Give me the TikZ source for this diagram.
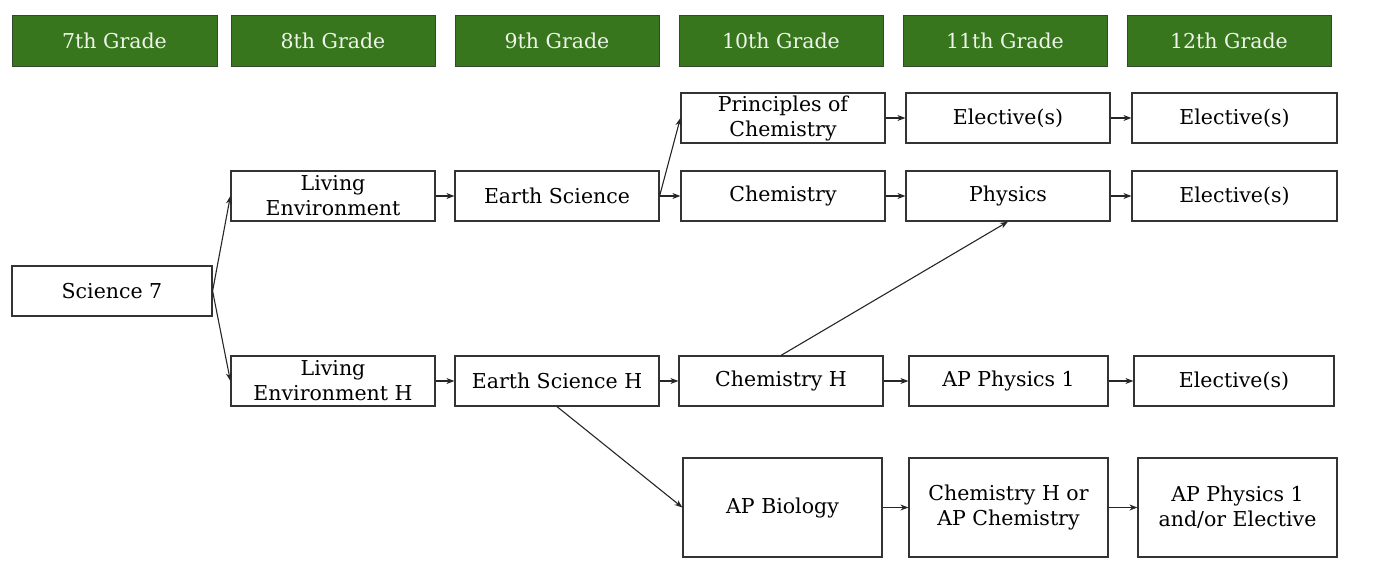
\documentclass[tikz,border=0pt]{standalone}
\usepackage{fontspec}
\setmainfont{DejaVu Serif}
\usetikzlibrary{arrows.meta}
\definecolor{hdr}{HTML}{38761D}
\definecolor{hdrtext}{HTML}{EEF4EA}
\definecolor{edge}{HTML}{333333}
\tikzset{
  x=1pt, y=-1pt,
  box/.style={draw=edge, line width=1.2pt, fill=white, inner sep=0pt, align=center,
    minimum height=50pt, font=\fontsize{20.5}{25}\selectfont, text=black},
  grade/.style={draw=edge!70!hdr, line width=1pt, fill=hdr, inner sep=0pt, minimum width=204pt,
    minimum height=51pt, text=hdrtext, font=\fontsize{20.5}{25}\selectfont},
  link/.style={draw=black!85, line width=1.1pt, -{Stealth[length=8pt,width=6pt]}}
}
\begin{document}
\begin{tikzpicture}
\useasboundingbox (0,0) rectangle (1383,562);
% headers
\node[grade, minimum width=205pt] (h7) at (114.5,40.5) {7th Grade};
\node[grade] (h8) at (333,40.5) {8th Grade};
\node[grade] (h9) at (557,40.5) {9th Grade};
\node[grade] (h10) at (781,40.5) {10th Grade};
\node[grade] (h11) at (1005,40.5) {11th Grade};
\node[grade] (h12) at (1229,40.5) {12th Grade};
% courses
\node[box, minimum width=200pt] (sci) at (112,291) {Science 7};
\node[box, minimum width=204pt] (le) at (333,196) {Living\\Environment};
\node[box, minimum width=204pt] (leh) at (333,381) {Living\\Environment H};
\node[box, minimum width=204pt] (es) at (557,196) {Earth Science};
\node[box, minimum width=204pt] (esh) at (557,381) {Earth Science H};
\node[box, minimum width=204pt] (poc) at (783,118) {Principles of\\Chemistry};
\node[box, minimum width=204pt] (chem) at (783,196) {Chemistry};
\node[box, minimum width=204pt] (chemh) at (781,381) {Chemistry H};
\node[box, minimum width=199pt, minimum height=99pt] (apbio) at (782.5,507.5) {AP Biology};
\node[box, minimum width=204pt] (el1) at (1008,118) {Elective(s)};
\node[box, minimum width=204pt] (phys) at (1008,196) {Physics};
\node[box, minimum width=199pt] (ap1) at (1008.5,381) {AP Physics 1};
\node[box, minimum width=199pt, minimum height=99pt] (chor) at (1008.5,507.5) {Chemistry H or\\AP Chemistry};
\node[box, minimum width=205pt] (el2) at (1234.5,118) {Elective(s)};
\node[box, minimum width=205pt] (el3) at (1234.5,196) {Elective(s)};
\node[box, minimum width=200pt] (el4) at (1234,381) {Elective(s)};
\node[box, minimum width=199pt, minimum height=99pt] (apor) at (1237.5,507.5) {AP Physics 1\\and/or Elective};
% connectors
\draw[link] (sci.east) -- (le.west);
\draw[link] (sci.east) -- (leh.west);
\draw[link] (le) -- (es);
\draw[link] (leh) -- (esh);
\draw[link] (es.east) -- (poc.west);
\draw[link] (es) -- (chem);
\draw[link] (esh) -- (chemh);
\draw[link] (esh.south) -- (apbio.west);
\draw[link] (poc) -- (el1);
\draw[link] (chem) -- (phys);
\draw[link] (chemh.north) -- (phys.south);
\draw[link] (chemh) -- (ap1);
\draw[link] (apbio) -- (chor);
\draw[link] (el1) -- (el2);
\draw[link] (phys) -- (el3);
\draw[link] (ap1) -- (el4);
\draw[link] (chor) -- (apor);
\end{tikzpicture}
\end{document}
